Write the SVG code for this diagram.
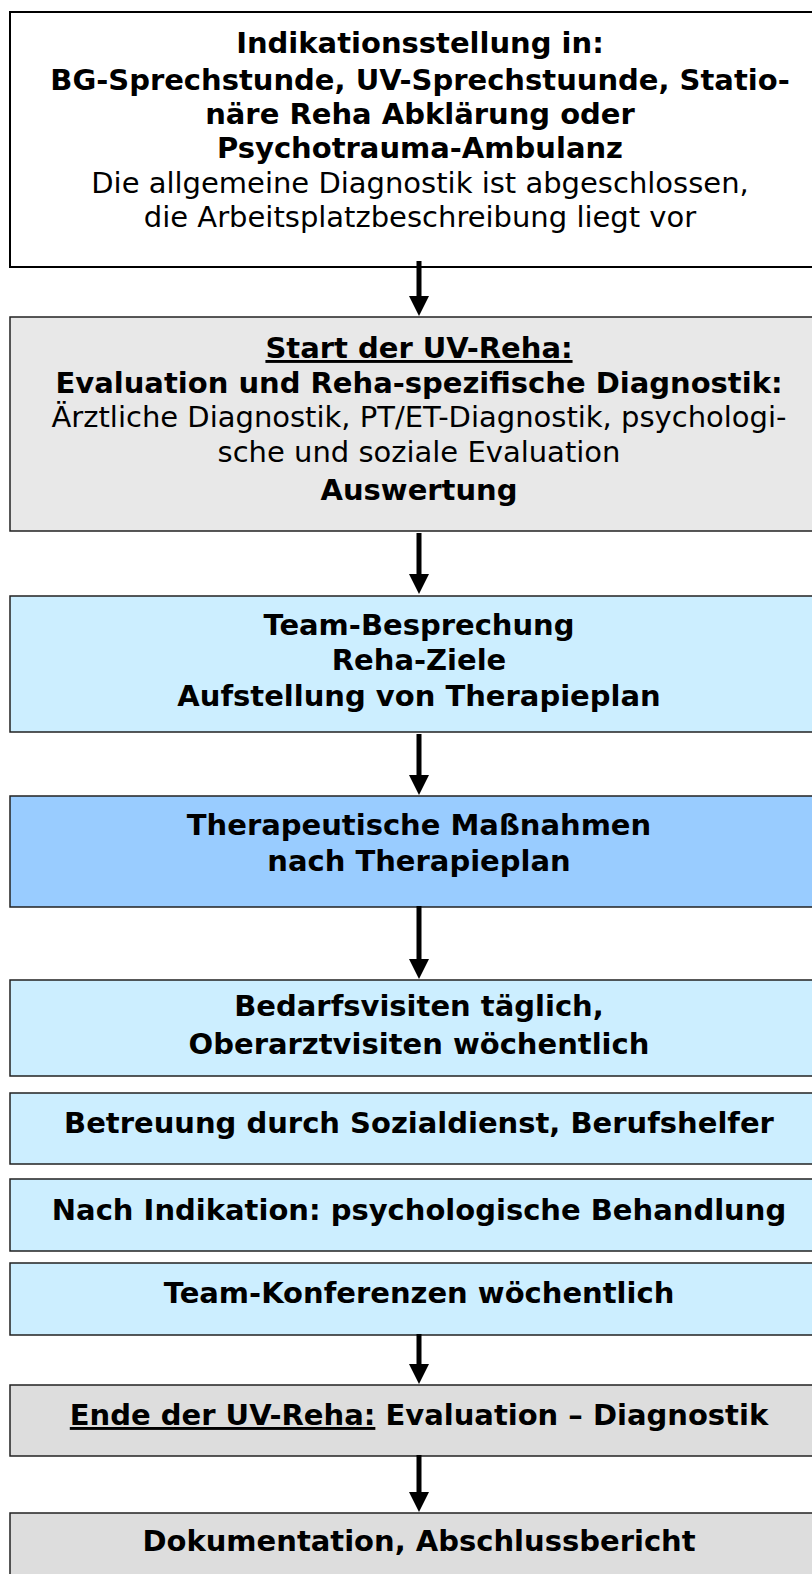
<svg xmlns="http://www.w3.org/2000/svg" width="812" height="1574" viewBox="0 0 812 1574">
<style>
.box{stroke:#222;stroke-width:1.5}
.t{font-family:"DejaVu Sans",Verdana,sans-serif;font-size:29px;text-anchor:middle;fill:#000}
.b{font-weight:bold}
.u{text-decoration:underline}
.conn line{stroke:#000;stroke-width:5}
</style>
<defs>
<marker id="ah" viewBox="0 0 20 20" refX="7" refY="10" markerWidth="20" markerHeight="20" orient="auto" markerUnits="userSpaceOnUse">
<path d="M0,0 L20,10 L0,20 z" fill="#000"/>
</marker>
</defs>
<rect width="812" height="1574" fill="#fff"/>
<g id="n1">
<rect class="box" x="10" y="12" width="810" height="255" fill="#fff" style="stroke:#000;stroke-width:2"/>
<text class="t b" x="420" y="53">Indikationsstellung in:</text>
<text class="t b" x="420" y="90">BG-Sprechstunde, UV-Sprechstuunde, Statio-</text>
<text class="t b" x="420" y="124">näre Reha Abklärung oder</text>
<text class="t b" x="420" y="158">Psychotrauma-Ambulanz</text>
<text class="t" x="420" y="193">Die allgemeine Diagnostik ist abgeschlossen,</text>
<text class="t" x="420" y="227">die Arbeitsplatzbeschreibung liegt vor</text>
</g>
<g id="n2">
<rect class="box" x="10" y="317" width="810" height="214" fill="#e8e8e8"/>
<text class="t b u" x="419" y="358">Start der UV-Reha:</text>
<text class="t b" x="419" y="393">Evaluation und Reha-spezifische Diagnostik:</text>
<text class="t" x="419" y="427">Ärztliche Diagnostik, PT/ET-Diagnostik, psychologi-</text>
<text class="t" x="419" y="462">sche und soziale Evaluation</text>
<text class="t b" x="419" y="500">Auswertung</text>
</g>
<g id="n3">
<rect class="box" x="10" y="596" width="810" height="136" fill="#cceeff"/>
<text class="t b" x="419" y="635">Team-Besprechung</text>
<text class="t b" x="419" y="670">Reha-Ziele</text>
<text class="t b" x="419" y="706">Aufstellung von Therapieplan</text>
</g>
<g id="n4">
<rect class="box" x="10" y="796" width="810" height="111" fill="#99ccff"/>
<text class="t b" x="419" y="835">Therapeutische Maßnahmen</text>
<text class="t b" x="419" y="871">nach Therapieplan</text>
</g>
<g id="n5">
<rect class="box" x="10" y="980" width="810" height="96" fill="#cceeff"/>
<text class="t b" x="419" y="1016">Bedarfsvisiten täglich,</text>
<text class="t b" x="419" y="1054">Oberarztvisiten wöchentlich</text>
</g>
<g id="n6">
<rect class="box" x="10" y="1093" width="810" height="71" fill="#cceeff"/>
<text class="t b" x="419" y="1133">Betreuung durch Sozialdienst, Berufshelfer</text>
</g>
<g id="n7">
<rect class="box" x="10" y="1179" width="810" height="72" fill="#cceeff"/>
<text class="t b" x="419" y="1220">Nach Indikation: psychologische Behandlung</text>
</g>
<g id="n8">
<rect class="box" x="10" y="1263" width="810" height="72" fill="#cceeff"/>
<text class="t b" x="419" y="1303">Team-Konferenzen wöchentlich</text>
</g>
<g id="n9">
<rect class="box" x="10" y="1385" width="810" height="71" fill="#dddddd"/>
<text class="t b" x="419" y="1425"><tspan class="u">Ende der UV-Reha:</tspan> Evaluation – Diagnostik</text>
</g>
<g id="n10">
<rect class="box" x="10" y="1513" width="810" height="80" fill="#dddddd"/>
<text class="t b" x="419" y="1551">Dokumentation, Abschlussbericht</text>
</g>
<g class="conn" id="connectors">
<line x1="419" y1="261" x2="419" y2="303" marker-end="url(#ah)"/>
<line x1="419" y1="533" x2="419" y2="581" marker-end="url(#ah)"/>
<line x1="419" y1="734" x2="419" y2="782" marker-end="url(#ah)"/>
<line x1="419" y1="906" x2="419" y2="966" marker-end="url(#ah)"/>
<line x1="419" y1="1334" x2="419" y2="1371" marker-end="url(#ah)"/>
<line x1="419" y1="1455" x2="419" y2="1499" marker-end="url(#ah)"/>
</g>
</svg>
